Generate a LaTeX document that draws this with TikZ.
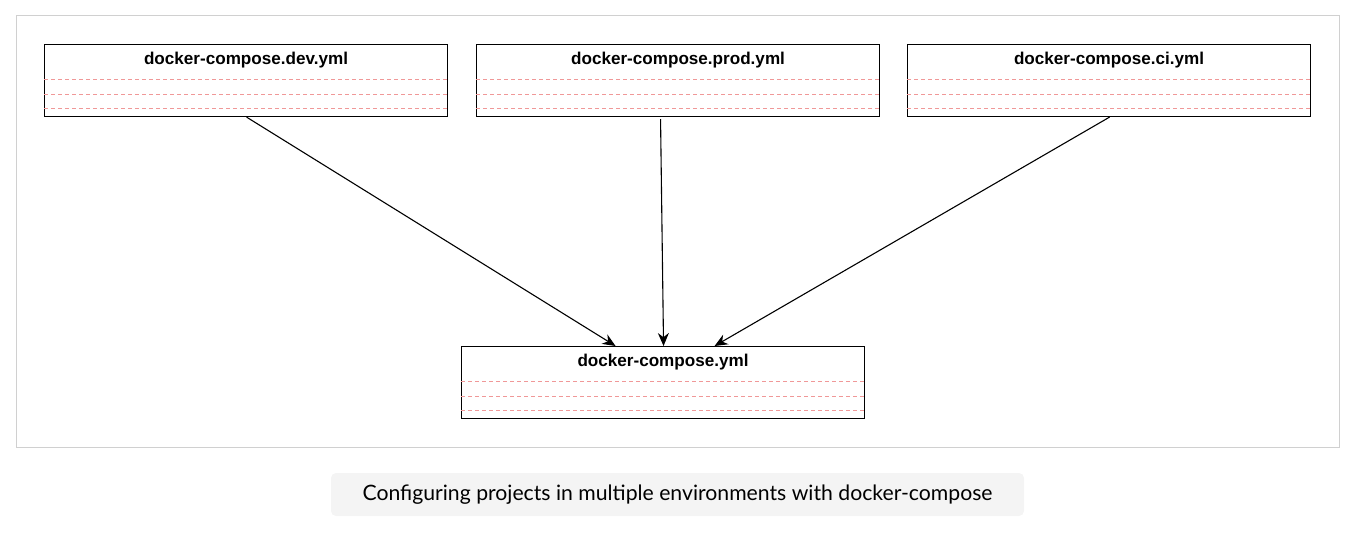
\documentclass[tikz,border=0pt]{standalone}
\usepackage{fontspec}
\setmainfont{Liberation Sans}
\newfontfamily\capfont{Lato}
\usetikzlibrary{arrows.meta}
\definecolor{framegray}{HTML}{D0D0D0}
\definecolor{sepred}{HTML}{F09898}
\definecolor{capbg}{HTML}{F4F4F4}
\begin{document}
\begin{tikzpicture}[x=1pt,y=-1pt,
  filebox/.style={draw=black, line width=1.1pt, minimum width=403pt, minimum height=72pt, inner sep=0pt, anchor=north west},
  title/.style={font=\bfseries\fontsize{17.1}{20}\selectfont, anchor=center},
  sep/.style={draw=sepred, dash pattern=on 4pt off 3pt, line width=0.9pt},
  conn/.style={draw=black, line width=1.1pt, -{Stealth[length=13pt,width=11pt]}},
  capbox/.style={fill=capbg, rounded corners=5pt, minimum width=693pt, minimum height=43pt, inner sep=0pt, font=\capfont\fontsize{21.2}{25}\selectfont}]
\useasboundingbox (0,0) rectangle (1357,533);
\draw[framegray, line width=1pt] (16,15) rectangle (1339,447);
\foreach \n/\x/\y/\t in {dev/44/44/docker-compose.dev.yml, prod/476/44/docker-compose.prod.yml, ci/907/44/docker-compose.ci.yml, main/461/346/docker-compose.yml}{
  \node[filebox] (\n) at (\x,\y) {};
  \node[title] (\n t) at ([yshift=-16pt]\n.north) {\t};
  \draw[sep] ([yshift=-35.5pt]\n.north west) -- ([yshift=-35.5pt]\n.north east);
  \draw[sep] ([yshift=-50pt]\n.north west) -- ([yshift=-50pt]\n.north east);
  \draw[sep] ([yshift=-64pt]\n.north west) -- ([yshift=-64pt]\n.north east);
}
\coordinate (devout) at ([xshift=0.5pt]dev.south);
\coordinate (prodout) at ([xshift=-17.5pt,yshift=-2pt]prod.south);
\coordinate (ciout) at ([xshift=0.5pt]ci.south);
\coordinate (in1) at ([xshift=-47.5pt]main.north);
\coordinate (in2) at ([xshift=0.5pt]main.north);
\coordinate (in3) at ([xshift=51.5pt]main.north);
\draw[conn] (devout) -- (in1);
\draw[conn] (prodout) -- (in2);
\draw[conn] (ciout) -- (in3);
\node[capbox] (cap) at (677.5,494.5) {Configuring projects in multiple environments with docker-compose};
\end{tikzpicture}
\end{document}
